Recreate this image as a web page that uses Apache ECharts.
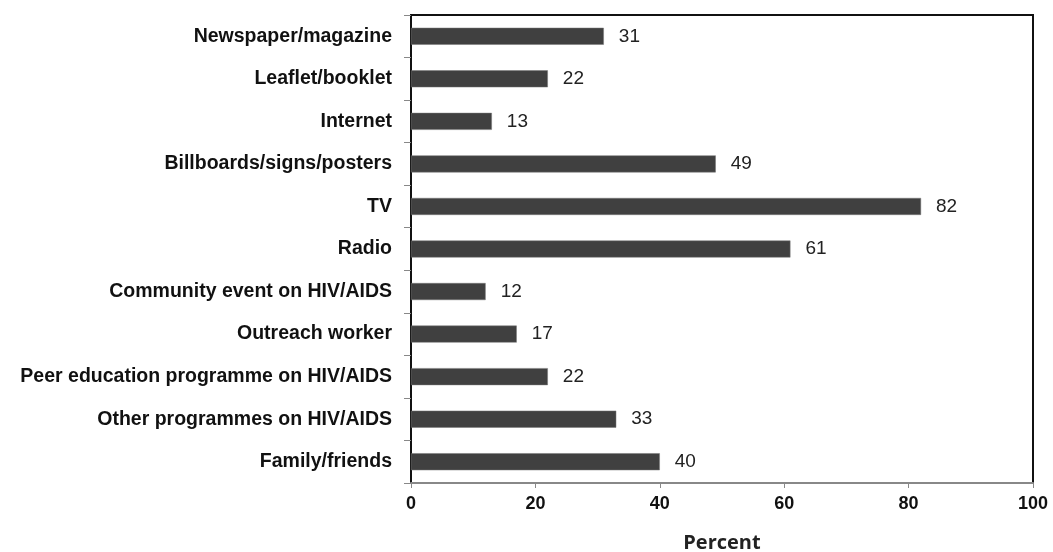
<!DOCTYPE html>
<html>
<head>
<meta charset="utf-8">
<script src="https://cdn.jsdelivr.net/npm/echarts@6/dist/echarts.min.js"></script>
<style>
  html, body { margin: 0; padding: 0; background: #fff; }
  #chart { width: 1053px; height: 552px; }
</style>
</head>
<body>
<div id="chart"></div>
<script>
// sources of HIV/AIDS information, percent
var categories = [
  'Newspaper/magazine',
  'Leaflet/booklet',
  'Internet',
  'Billboards/signs/posters',
  'TV',
  'Radio',
  'Community event on HIV/AIDS',
  'Outreach worker',
  'Peer education programme on HIV/AIDS',
  'Other programmes on HIV/AIDS',
  'Family/friends'
];
var percents = [31, 22, 13, 49, 82, 61, 12, 17, 22, 33, 40];
var xTicks = [0, 20, 40, 60, 80, 100];

var chart = echarts.init(document.getElementById('chart'));
chart.setOption({
  animation: false,
  grid: {
    left: 411, right: 20, top: 15, bottom: 69,
    outerBoundsMode: 'none',
    containLabel: false,
    show: true, borderColor: '#111', borderWidth: 2
  },
  xAxis: {
    type: 'value',
    min: xTicks[0], max: xTicks[xTicks.length - 1], interval: 20,
    name: 'Percent', nameLocation: 'middle', nameGap: 50,
    nameTextStyle: { fontFamily: 'Open Sans', fontWeight: 'bold', fontSize: 20, color: '#222' },
    splitLine: { show: false },
    axisLine: { show: true, lineStyle: { color: '#888', width: 2 } },
    axisTick: { show: true, length: 5, lineStyle: { color: '#888', width: 1 } },
    axisLabel: { fontFamily: 'Liberation Sans', fontWeight: 'bold', fontSize: 18, color: '#111', margin: 12 }
  },
  yAxis: {
    type: 'category',
    data: categories,
    inverse: true,
    axisLine: { show: true, lineStyle: { color: '#111', width: 2 } },
    axisTick: { show: true, length: 7, lineStyle: { color: '#888', width: 1 } },
    axisLabel: { fontFamily: 'Liberation Sans', fontWeight: 'bold', fontSize: 19.5, color: '#111', margin: 19 }
  },
  series: [{
    type: 'bar',
    data: percents,
    barWidth: 17,
    itemStyle: { color: '#404040', borderColor: '#777', borderWidth: 0.5 },
    label: {
      show: true, position: 'right', distance: 15,
      fontFamily: 'Liberation Sans', fontSize: 19, color: '#222'
    }
  }]
});
</script>
</body>
</html>
